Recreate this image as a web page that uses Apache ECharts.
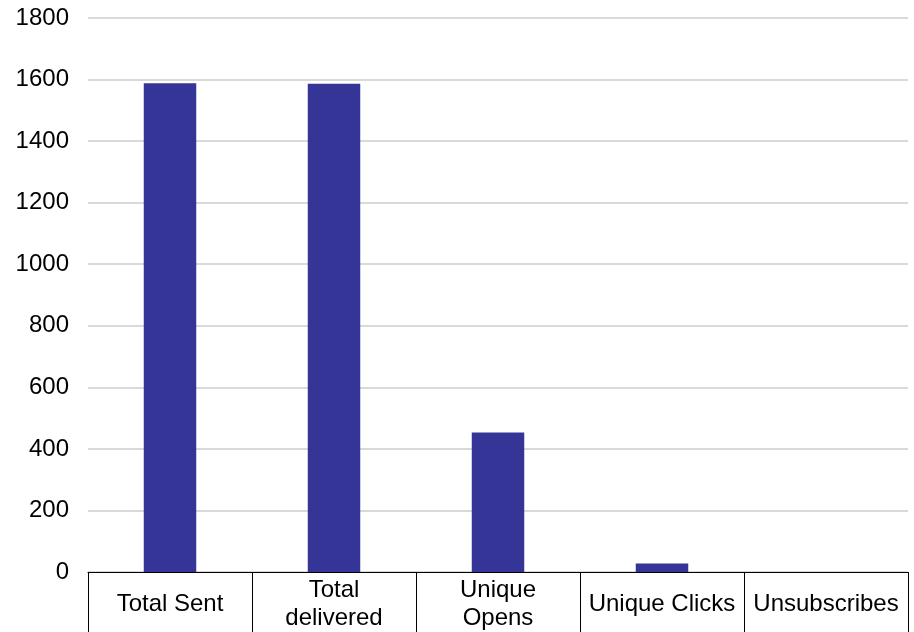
<!DOCTYPE html>
<html>
<head>
<meta charset="utf-8">
<script src="https://cdn.jsdelivr.net/npm/echarts@6/dist/echarts.min.js"></script>
<style>
html,body{margin:0;padding:0;background:#fff;}
#chart{width:914px;height:632px;}
</style>
</head>
<body>
<div id="chart"></div>
<script>
const categories = ["Total Sent", "Total\ndelivered", "Unique\nOpens", "Unique Clicks", "Unsubscribes"];
const values = [1588, 1586, 453, 28, 0];
const yMin = 0, yMax = 1800, yStep = 200;

const chart = echarts.init(document.getElementById('chart'), null, {renderer: 'canvas'});
chart.setOption({
  animation: false,
  backgroundColor: '#ffffff',
  grid: {left: 88, right: 6, top: 18, bottom: 59, containLabel: false},
  xAxis: {
    type: 'category',
    data: categories,
    boundaryGap: true,
    axisLine: {show: true, lineStyle: {color: '#000', width: 1}},
    axisTick: {show: true, interval: 0, length: 70, lineStyle: {color: '#000', width: 1}},
    axisLabel: {
      interval: 0, margin: 32, verticalAlign: 'middle',
      fontFamily: 'Liberation Sans, Arial, sans-serif', fontSize: 24, lineHeight: 28, color: '#000'
    },
    splitLine: {show: false}
  },
  yAxis: {
    type: 'value',
    min: yMin, max: yMax, interval: yStep,
    axisLine: {show: false},
    axisTick: {show: false},
    axisLabel: {margin: 19, fontFamily: 'Liberation Sans, Arial, sans-serif', fontSize: 24, color: '#000',
      formatter: function (v) { return String(v); }},
    splitLine: {show: true, lineStyle: {color: '#d9d9d9', width: 2}}
  },
  series: [{
    type: 'bar',
    data: values,
    barWidth: '32%',
    itemStyle: {color: '#353597'}
  }]
});
</script>
</body>
</html>
